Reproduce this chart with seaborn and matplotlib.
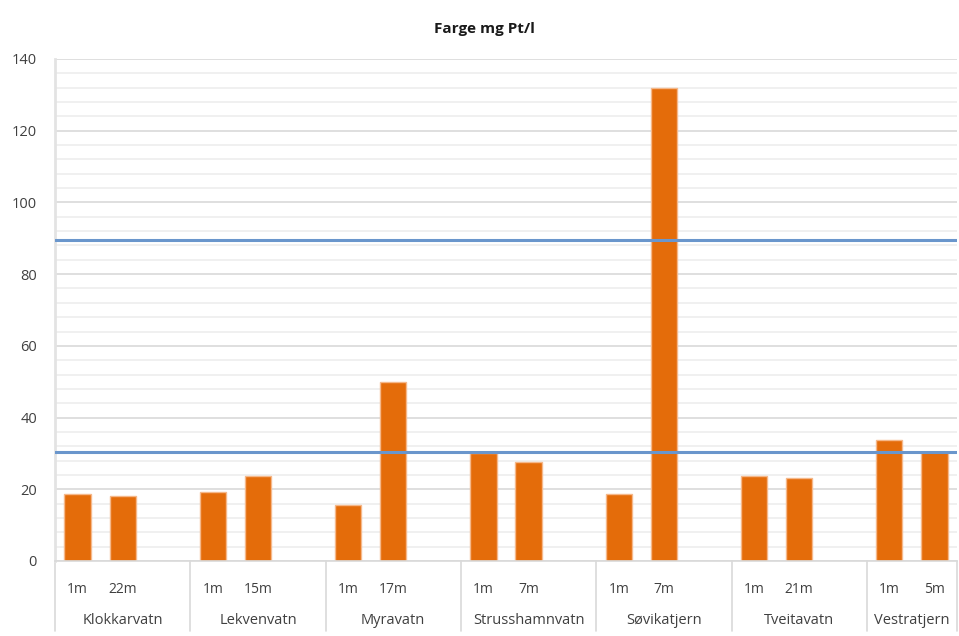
import numpy as np
import pandas as pd
import seaborn as sns
import matplotlib.pyplot as plt
from matplotlib.ticker import MultipleLocator
import matplotlib.transforms as mtransforms

# data
lake = ['Klokkarvatn', 'Klokkarvatn', 'Lekvenvatn', 'Lekvenvatn', 'Myravatn', 'Myravatn',
        'Strusshamnvatn', 'Strusshamnvatn', 'Søvikatjern', 'Søvikatjern',
        'Tveitavatn', 'Tveitavatn', 'Vestratjern', 'Vestratjern']
depth = ['1m', '22m', '1m', '15m', '1m', '17m', '1m', '7m', '1m', '7m', '1m', '21m', '1m', '5m']
farge = [18.8, 18.2, 19.3, 23.8, 15.6, 49.9, 30.0, 27.5, 18.7, 131.9, 23.7, 23.2, 33.8, 30.5]
grenser = [89.5, 30.5]  # the two blue horizontal lines

# two bars per lake, then an empty slot
pos = [3 * (i // 2) + i % 2 for i in range(len(farge))]
df = pd.DataFrame({'pos': pos, 'farge': farge, 'depth': depth, 'lake': lake})

sns.set_style('white')
plt.rcParams['font.family'] = ['Open Sans', 'DejaVu Sans']

fig = plt.figure(figsize=(9.59, 6.36), dpi=100)
ax = fig.add_axes([55 / 959, 1 - 561 / 636, 902 / 959, 502 / 636])

sns.barplot(data=df, x='pos', y='farge', native_scale=True, width=0.58,
            color='#E46C0A', saturation=1, edgecolor='#F5B88A', linewidth=1,
            errorbar=None, ax=ax)

for g in grenser:
    ax.axhline(g, color='#6A96CC', lw=2.2, zorder=3)

ax.set_xlim(-0.5, 19.5)
ax.set_ylim(0, 140)
ax.yaxis.set_major_locator(MultipleLocator(20))
ax.yaxis.set_minor_locator(MultipleLocator(4))
ax.grid(axis='y', which='major', color='#D9D9D9', lw=1.2, zorder=0)
ax.grid(axis='y', which='minor', color='#EEEEEE', lw=1.2, zorder=0)
ax.set_axisbelow(True)

ax.set_xticks(pos)
ax.set_xticklabels(depth, fontsize=10, color='#404040')
ax.tick_params(axis='x', length=0, pad=15)
ax.tick_params(axis='y', which='major', length=6, color='#D9D9D9',
               labelsize=10.5, labelcolor='#404040', pad=7)
ax.tick_params(axis='y', which='minor', length=0)
ax.set_xlabel('')
ax.set_ylabel('')

for s in ['top', 'right']:
    ax.spines[s].set_visible(False)
ax.spines['left'].set_color('#E3E3E3')
ax.spines['left'].set_linewidth(2)
ax.spines['bottom'].set_color('#D9D9D9')
ax.spines['bottom'].set_linewidth(1.2)

# multi-level category axis: lake names and separators
trans = mtransforms.blended_transform_factory(ax.transData, ax.transAxes)
names = list(dict.fromkeys(lake))
for k, name in enumerate(names):
    xc = 3 * k + 1 if k < len(names) - 1 else 3 * k + 0.5
    ax.text(xc, -0.118, name, transform=trans, ha='center', va='center',
            fontsize=10.5, color='#404040')
for xb in [3 * k - 0.5 for k in range(len(names))] + [19.5]:
    ax.plot([xb, xb], [0, -0.14], transform=trans, color='#D9D9D9', lw=1.2,
            clip_on=False)

fig.text(0.505, 0.955, 'Farge mg Pt/l', ha='center', va='center',
         fontsize=11, fontweight='bold', color='#1a1a1a')

fig.savefig('out.png', dpi=100)
